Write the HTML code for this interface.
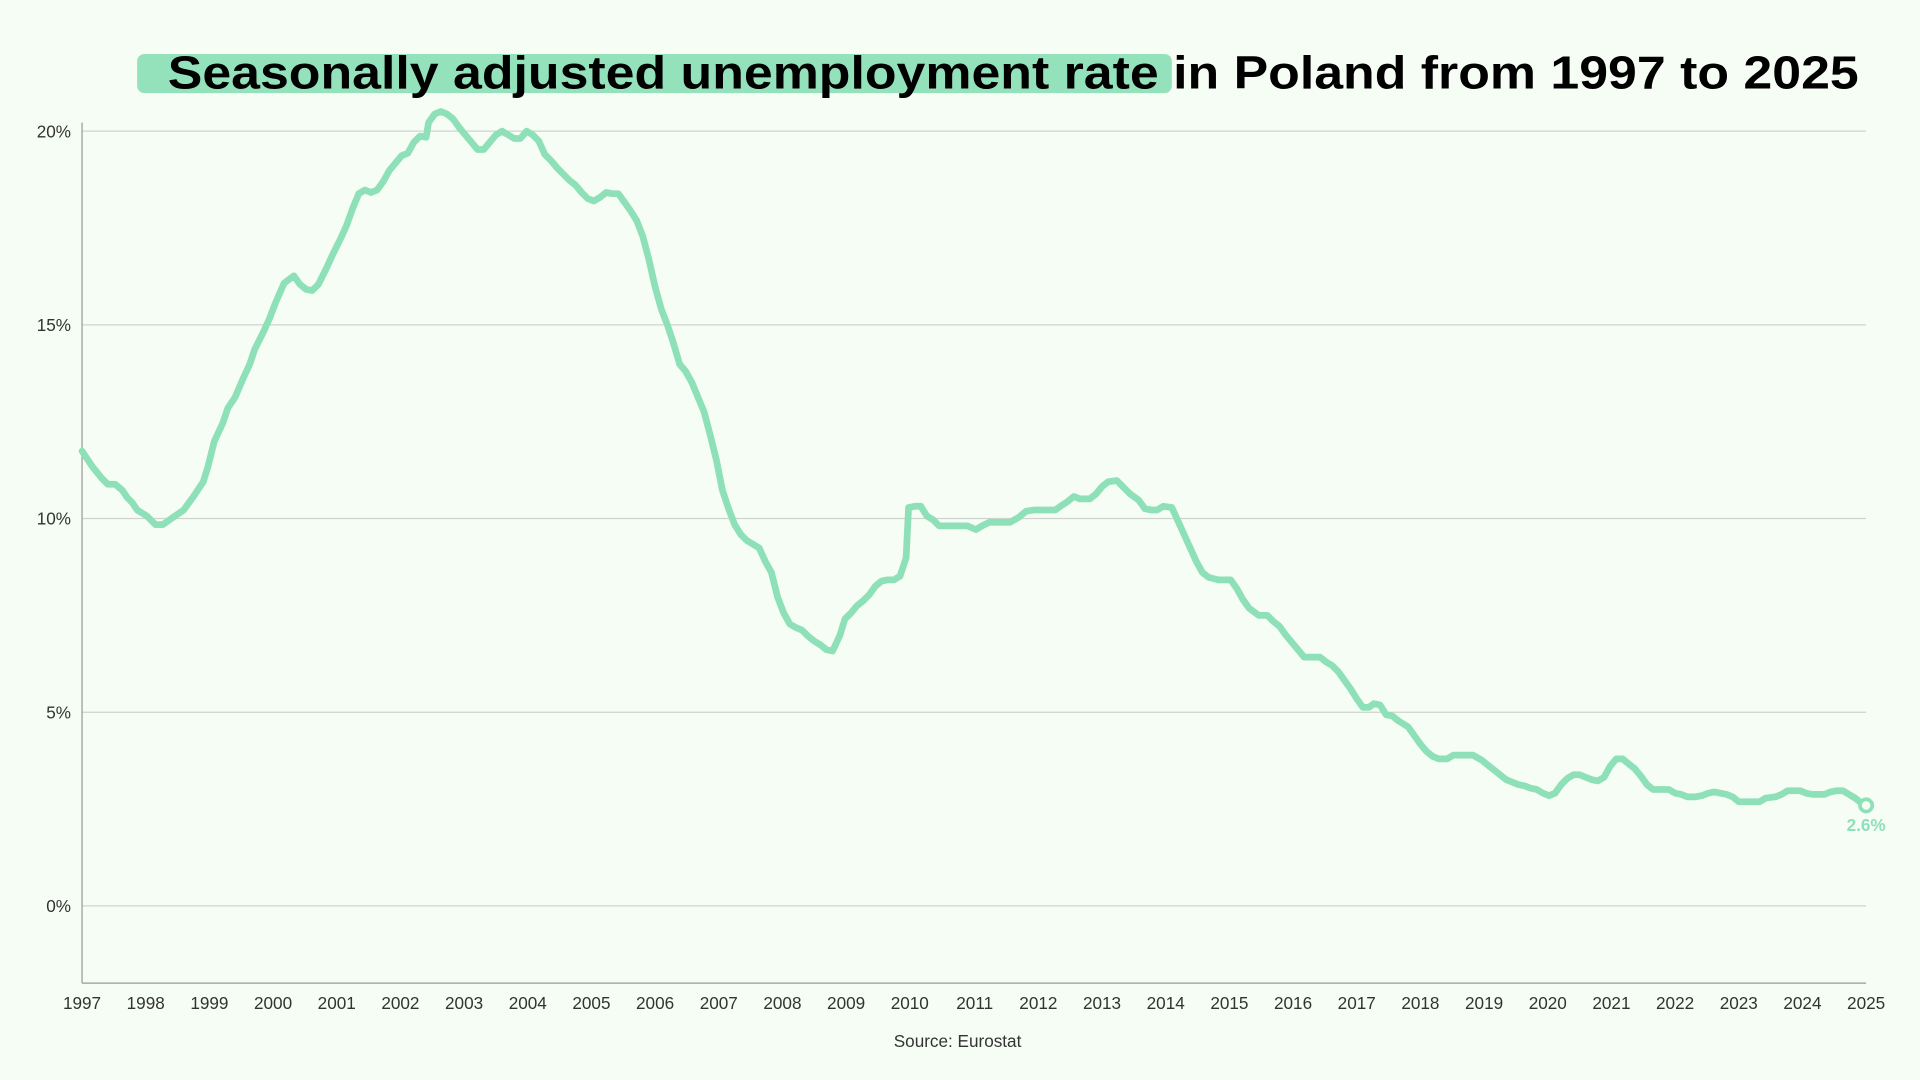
<!DOCTYPE html>
<html><head><meta charset="utf-8"><style>
html,body{margin:0;padding:0;background:#f6fdf4;}
svg{display:block}
</style></head><body>
<svg width="1920" height="1080" viewBox="0 0 1568 881" preserveAspectRatio="none" font-family="Liberation Sans, sans-serif">
<rect width="1568" height="881" fill="#f6fdf4"/>
<rect x="112" y="44" width="845" height="32" rx="6" fill="#8ee0b8" opacity="0.95"/>
<text x="137" y="72" font-size="38" font-weight="bold" fill="#000" textLength="1381" lengthAdjust="spacingAndGlyphs">Seasonally adjusted unemployment rate in Poland from 1997 to 2025</text>
<g stroke="#cfd3cf" stroke-width="1">
<line x1="67" x2="1524" y1="107" y2="107"/><line x1="67" x2="1524" y1="265" y2="265"/>
<line x1="67" x2="1524" y1="423" y2="423"/><line x1="67" x2="1524" y1="581" y2="581"/>
<line x1="67" x2="1524" y1="739" y2="739"/>
</g>
<g stroke="#999" stroke-width="1">
<line x1="67" x2="67" y1="100" y2="802"/><line x1="67" x2="1524" y1="802" y2="802"/>
</g>
<g font-size="14" fill="#333" text-anchor="end">
<text x="58" y="112">20%</text><text x="58" y="270">15%</text><text x="58" y="428">10%</text><text x="58" y="586">5%</text><text x="58" y="744">0%</text>
</g>
<text x="782" y="854" font-size="14" fill="#333" text-anchor="middle">Source: Eurostat</text>
<polyline fill="none" stroke="#8ee0b8" stroke-width="5.5" stroke-linejoin="round" stroke-linecap="round" points="67,368 75,380 83,390 88,395 94,395 100,400 104,406 108,410 112,416 120,421 127,428 133,428 140,423 150,416 158,405 166,393 170,380 175,360 182,345 186,333 192,324 198,310 204,297 208,285 215,271 220,260 225,247 232,231 240,225 245,232 250,236 255,237 260,232 266,220 272,207 278,195 283,184 288,170 293,158 298,155 303,157 308,155 313,148 318,139 323,133 328,127 333,125 338,116 343,111 348,112 350,100 355,93 360,91 365,93 370,97 375,104 380,110 385,116 390,122 395,122 400,116 405,110 410,107 415,110 420,113 425,113 430,107 435,110 440,115 445,126 450,131 455,137 460,142 465,147 470,151 475,157 480,162 485,164 490,161 495,157 500,158 505,158 510,165 515,172 520,180 525,193 530,212 535,234 540,252 545,265 550,280 555,297 560,303 565,312 570,324 575,336 580,355 585,375 590,400 595,415 600,428 605,436 610,441 615,444 620,447 625,458 630,467 635,487 640,500 645,509 650,512 655,514 660,519 665,523 670,526 675,530 680,531 686,518 690,505 695,500 700,494 705,490 710,485 715,478 720,474 725,473 730,473 735,470 740,455 742,414 747,413 752,413 757,421 762,424 767,429 772,429 780,429 790,429 797,432 802,429 808,426 815,426 825,426 832,422 838,417 845,416 855,416 862,416 866,413 872,409 877,405 882,407 890,407 895,403 900,397 905,393 912,392 918,398 923,403 930,408 935,415 940,416 945,416 950,413 957,414 962,425 967,436 972,447 977,458 982,467 987,471 995,473 1005,473 1010,480 1015,489 1020,496 1028,502 1035,502 1040,507 1045,511 1050,518 1055,524 1060,530 1065,536 1070,536 1078,536 1083,540 1088,543 1093,548 1098,555 1103,562 1108,570 1113,577 1118,577 1122,574 1127,575 1132,583 1137,584 1142,588 1150,593 1155,600 1160,607 1165,613 1170,617 1175,619 1182,619 1187,616 1195,616 1203,616 1210,620 1215,624 1220,628 1225,632 1230,636 1235,638 1240,640 1245,641 1250,643 1255,644 1260,647 1265,649 1270,647 1275,640 1280,635 1285,632 1290,632 1295,634 1300,636 1305,637 1310,634 1315,625 1320,619 1325,619 1330,623 1335,627 1340,633 1345,640 1350,644 1355,644 1363,644 1368,647 1373,648 1378,650 1385,650 1390,649 1395,647 1400,646 1405,647 1410,648 1415,650 1420,654 1428,654 1437,654 1442,651 1450,650 1455,648 1460,645 1465,645 1470,645 1475,647 1480,648 1485,648 1490,648 1495,646 1500,645 1505,645 1510,648 1515,651 1520,655 1524,657"/>
<circle cx="1524" cy="657" r="5" fill="#f6fdf4" stroke="#8ee0b8" stroke-width="3"/>
<text x="1524" y="678" font-size="14" font-weight="bold" fill="#8ee0b8" text-anchor="middle">2.6%</text>
<g font-size="14" fill="#333" text-anchor="middle">
<text x="67" y="823">1997</text><text x="119" y="823">1998</text><text x="171" y="823">1999</text><text x="223" y="823">2000</text><text x="275" y="823">2001</text><text x="327" y="823">2002</text><text x="379" y="823">2003</text><text x="431" y="823">2004</text><text x="483" y="823">2005</text><text x="535" y="823">2006</text><text x="587" y="823">2007</text><text x="639" y="823">2008</text><text x="691" y="823">2009</text><text x="743" y="823">2010</text><text x="796" y="823">2011</text><text x="848" y="823">2012</text><text x="900" y="823">2013</text><text x="952" y="823">2014</text><text x="1004" y="823">2015</text><text x="1056" y="823">2016</text><text x="1108" y="823">2017</text><text x="1160" y="823">2018</text><text x="1212" y="823">2019</text><text x="1264" y="823">2020</text><text x="1316" y="823">2021</text><text x="1368" y="823">2022</text><text x="1420" y="823">2023</text><text x="1472" y="823">2024</text><text x="1524" y="823">2025</text>
</g>
</svg>
</body></html>
